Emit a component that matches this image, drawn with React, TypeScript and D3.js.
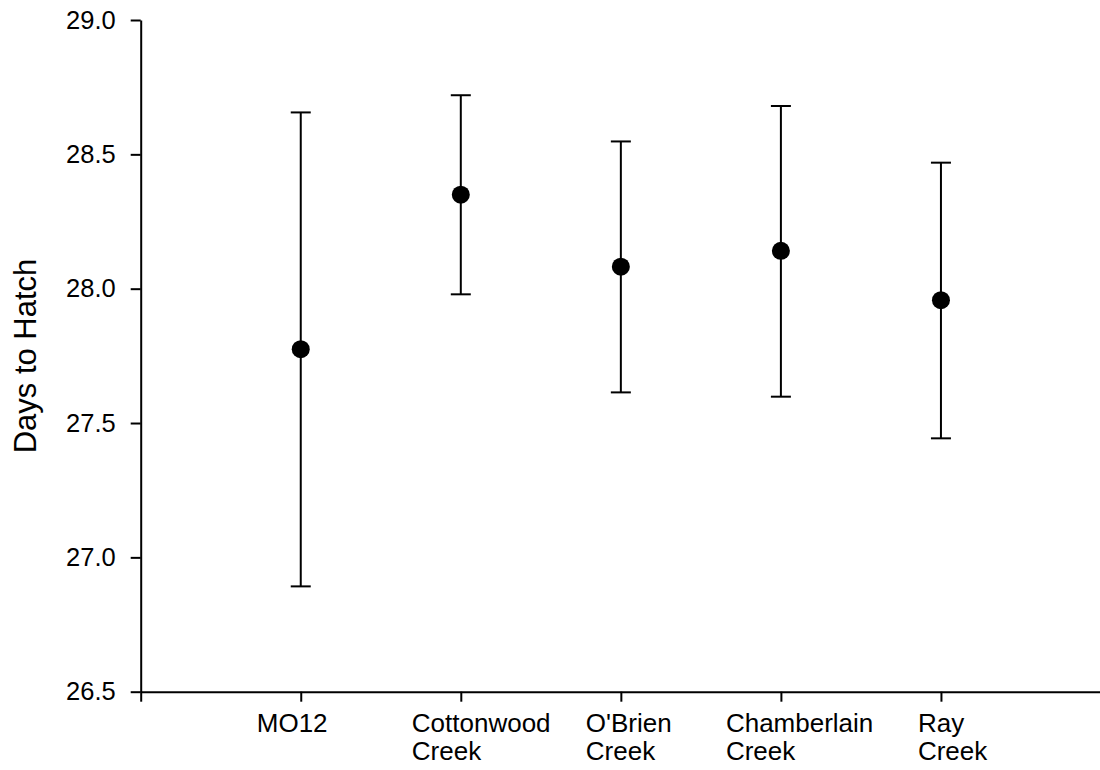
import * as d3 from 'd3';
import React, { useRef, useEffect } from 'react';

// hatch timing by site (mean with error bar ends)
const sites = [['MO12'], ['Cottonwood', 'Creek'], ["O'Brien", 'Creek'], ['Chamberlain', 'Creek'], ['Ray', 'Creek']];
const means = [27.775, 28.35, 28.082, 28.141, 27.957];
const upper = [28.656, 28.72, 28.548, 28.68, 28.469];
const lower = [26.892, 27.979, 27.614, 27.598, 27.443];
const yTicks = [26.5, 27.0, 27.5, 28.0, 28.5, 29.0];
const yLabel = 'Days to Hatch';

// label start offsets relative to the tick (layout only)
const labelShift = [-44, -49, -35, -55, -23];

const FONT = '"Liberation Sans", Arial, Helvetica, sans-serif';

function App() {
  const svgRef = useRef(null);

  useEffect(() => {
    const svg = d3.select(svgRef.current);
    svg.selectAll('*').remove();

    const x = d3.scaleLinear().domain([0, 6]).range([140.7, 1101]);
    const y = d3.scaleLinear().domain([26.5, 29.0]).range([691.7, 20]);

    // y axis
    const yAxis = svg
      .append('g')
      .attr('transform', 'translate(' + x(0) + ',0)')
      .call(
        d3
          .axisLeft(y)
          .tickValues(yTicks)
          .tickFormat(d3.format('.1f'))
          .tickSize(10)
          .tickSizeOuter(0)
          .tickPadding(15)
      );
    yAxis.select('.domain').attr('stroke-width', 2);
    yAxis.selectAll('.tick line').attr('stroke-width', 2);
    yAxis.selectAll('.tick text').attr('font-size', 25.5).attr('font-family', FONT).attr('fill', '#000');

    // x axis
    const xAxis = svg
      .append('g')
      .attr('transform', 'translate(0,' + y(26.5) + ')')
      .call(
        d3
          .axisBottom(x)
          .tickValues([0, 1, 2, 3, 4, 5])
          .tickFormat(() => '')
          .tickSize(10)
          .tickSizeOuter(0)
      );
    xAxis.select('.domain').attr('stroke-width', 2);
    xAxis.selectAll('.tick line').attr('stroke-width', 2);

    // category labels
    const lbl = svg
      .append('g')
      .attr('font-family', FONT)
      .attr('font-size', 26)
      .attr('fill', '#000');
    sites.forEach((lines, i) => {
      const t = lbl.append('text').attr('x', x(i + 1) + labelShift[i]).attr('y', 731.5);
      lines.forEach((s, j) => {
        t.append('tspan')
          .attr('x', x(i + 1) + labelShift[i])
          .attr('dy', j === 0 ? 0 : 28.5)
          .text(s);
      });
    });

    // y title
    svg
      .append('text')
      .attr('transform', 'translate(36,356) rotate(-90)')
      .attr('text-anchor', 'middle')
      .attr('font-family', FONT)
      .attr('font-size', 31)
      .attr('fill', '#000')
      .text(yLabel);

    // error bars
    const bars = svg.append('g').attr('stroke', '#000').attr('stroke-width', 2);
    means.forEach((m, i) => {
      const cx = x(i + 1);
      bars.append('line').attr('x1', cx).attr('x2', cx).attr('y1', y(upper[i])).attr('y2', y(lower[i]));
      bars.append('line').attr('x1', cx - 10).attr('x2', cx + 10).attr('y1', y(upper[i])).attr('y2', y(upper[i]));
      bars.append('line').attr('x1', cx - 10).attr('x2', cx + 10).attr('y1', y(lower[i])).attr('y2', y(lower[i]));
    });

    // mean points
    svg
      .append('g')
      .selectAll('circle')
      .data(means)
      .join('circle')
      .attr('cx', (d, i) => x(i + 1))
      .attr('cy', (d) => y(d))
      .attr('r', 9)
      .attr('fill', '#000');
  }, []);

  return (
    <svg
      ref={svgRef}
      width={1100}
      height={770}
      style={{ position: 'absolute', left: 0, top: 0, background: '#fff' }}
    ></svg>
  );
}

export default App;
